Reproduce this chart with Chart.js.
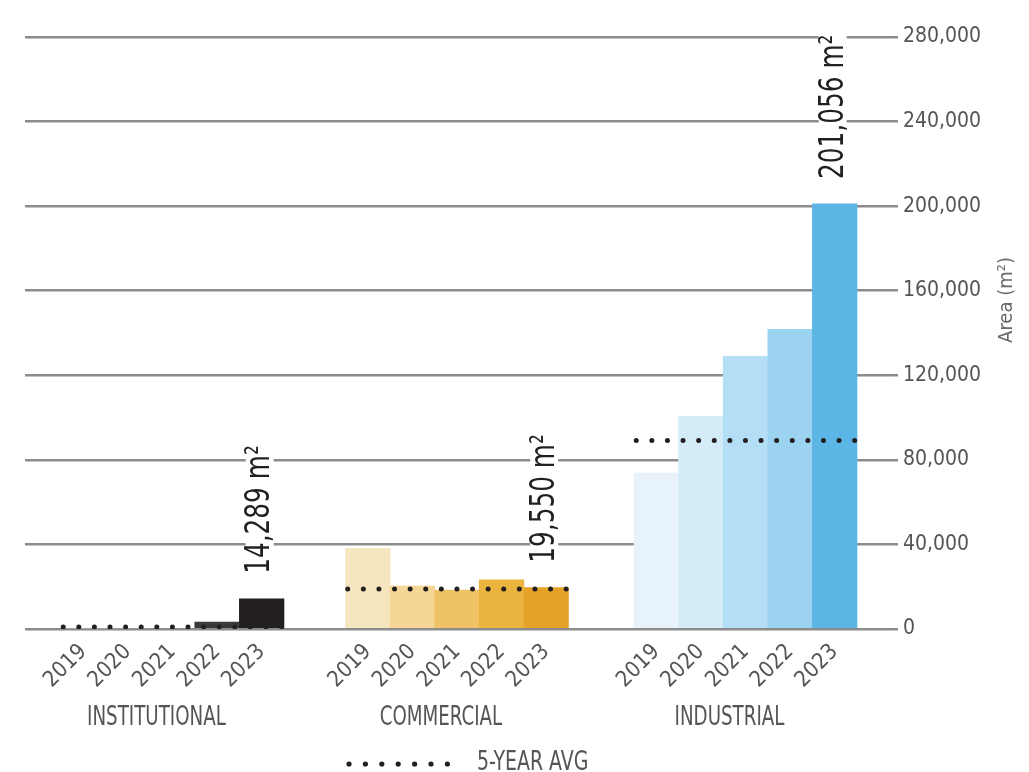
<!DOCTYPE html>
<html>
<head>
<meta charset="utf-8">
<title>Floor area by sector</title>
<script src="https://cdn.jsdelivr.net/npm/chart.js@4.4.1/dist/chart.umd.min.js"></script>
<style>
  html, body { margin: 0; padding: 0; background: #fff; }
  #wrap { width: 1029px; height: 772px; position: relative; }
</style>
</head>
<body>
<div id="wrap"><canvas id="chart"></canvas></div>
<script>
// Datos
const sectors = ['INSTITUTIONAL', 'COMMERCIAL', 'INDUSTRIAL'];
const years = ['2019', '2020', '2021', '2022', '2023'];
const institutional = [0, 0, 0, 3300, 14289];
const commercial = [38200, 20300, 18400, 23200, 19550];
const industrial = [73800, 100600, 129000, 141700, 201056];
const fiveYearAvg = [1000, 18900, 89200];
const labelledYear = '2023';
const yTicks = [0, 40000, 80000, 120000, 160000, 200000, 240000, 280000];

// Posicion de la primera barra de cada grupo en el eje x
const groupStart = [0, 6.38, 12.85];

const sectorColors = [
    ['#d9d9d9', '#bdbdbd', '#8c8c8c', '#3a3a3a', '#231f20'],
    ['#f6e6c0', '#f5d695', '#efc266', '#eab43e', '#e5a228'],
    ['#e7f2fa', '#d4ebf8', '#b3def5', '#9bd3f0', '#5bb5e5']
];

const COND = '"DejaVu Sans Condensed", "DejaVu Sans", sans-serif';
const TEXT_GREY = '#555555';

const seriesBySector = [institutional, commercial, industrial];

const barPoints = [];
const barColors = [];
const barLabels = [];
const tickPositions = [];
seriesBySector.forEach((values, g) => {
    values.forEach((v, i) => {
        barPoints.push({ x: groupStart[g] + i, y: v });
        barColors.push(sectorColors[g][i]);
        barLabels.push(years[i] === labelledYear ? `${v.toLocaleString('en-US')} m²` : null);
        tickPositions.push(groupStart[g] + i);
    });
});

const avgDatasets = fiveYearAvg.map((avg, g) => ({
    type: 'line',
    data: [{ x: groupStart[g] - 0.45, y: avg }, { x: groupStart[g] + 4.45, y: avg }],
    borderColor: '#231f20',
    borderWidth: 5,
    borderDash: [0, 15.6],
    borderCapStyle: 'round',
    pointRadius: 0,
    order: 0
}));

// texto estrechado horizontalmente
function narrowText(ctx, text, x, y, squeeze, align) {
    ctx.save();
    ctx.translate(x, y);
    ctx.scale(squeeze, 1);
    ctx.textAlign = align;
    ctx.fillText(text, 0, 0);
    ctx.restore();
}

// Etiquetas de valor, nombres de grupo, leyenda y titulo del eje
const extrasPlugin = {
    id: 'extras',
    afterDatasetsDraw(chart) {
        const ctx = chart.ctx;
        const x = chart.scales.x;
        const meta = chart.getDatasetMeta(0);

        ctx.save();
        ctx.font = `34px ${COND}`;
        meta.data.forEach((bar, i) => {
            const text = barLabels[i];
            if (!text) return;
            ctx.save();
            ctx.translate(bar.x - 2, bar.y - 25);
            ctx.rotate(-Math.PI / 2);
            ctx.scale(0.81, 1);
            const w = ctx.measureText(text).width;
            ctx.fillStyle = '#ffffff';
            ctx.fillRect(-2, -14, w + 4, 28);
            ctx.fillStyle = '#231f20';
            ctx.textAlign = 'left';
            ctx.textBaseline = 'middle';
            ctx.fillText(text, 0, 1);
            ctx.restore();
        });

        // nombres de sector
        ctx.font = `26px ${COND}`;
        ctx.fillStyle = TEXT_GREY;
        ctx.textBaseline = 'middle';
        sectors.forEach((name, g) => {
            const cx = x.getPixelForValue(groupStart[g] + 2) - 16;
            narrowText(ctx, name, cx, 718, 0.78, 'center');
        });

        // leyenda
        ctx.fillStyle = '#231f20';
        for (let k = 0; k < 7; k++) {
            ctx.beginPath();
            ctx.arc(349 + k * 16.4, 764, 2.6, 0, Math.PI * 2);
            ctx.fill();
        }
        ctx.fillStyle = TEXT_GREY;
        narrowText(ctx, '5-YEAR AVG', 477, 763, 0.81, 'left');

        // titulo eje y
        ctx.font = `20px ${COND}`;
        ctx.fillStyle = '#6a6a6a';
        ctx.translate(1007, 300);
        ctx.rotate(-Math.PI / 2);
        ctx.textAlign = 'center';
        ctx.fillText('Area (m²)', 0, 0);
        ctx.restore();
    }
};

new Chart(document.getElementById('chart'), {
    data: {
        datasets: [{
            type: 'bar',
            data: barPoints,
            backgroundColor: barColors,
            borderWidth: 0,
            barPercentage: 1,
            categoryPercentage: 1,
            order: 1
        }, ...avgDatasets]
    },
    options: {
        responsive: true,
        maintainAspectRatio: false,
        animation: false,
        layout: { padding: { left: 25, top: 37, right: 0, bottom: 0 } },
        plugins: {
            legend: { display: false },
            tooltip: { enabled: false }
        },
        scales: {
            x: {
                type: 'linear',
                offset: false,
                min: -1.307,
                max: 18.09,
                grid: { display: false },
                border: { display: false },
                afterBuildTicks: s => { s.ticks = tickPositions.map(v => ({ value: v })); },
                afterFit: s => { s.height = 143; },
                ticks: {
                    autoSkip: false,
                    minRotation: 45,
                    maxRotation: 45,
                    padding: 2,
                    color: TEXT_GREY,
                    font: { family: COND, size: 22 },
                    callback: (value, index) => years[index % years.length]
                }
            },
            y: {
                position: 'right',
                min: 0,
                max: 280000,
                afterBuildTicks: s => { s.ticks = yTicks.map(v => ({ value: v })); },
                afterFit: s => { s.width = 139; },
                grid: {
                    color: '#8c8c8c',
                    lineWidth: 2.5,
                    drawTicks: true,
                    tickLength: 8
                },
                border: { display: false },
                ticks: {
                    padding: 5,
                    color: TEXT_GREY,
                    font: { family: COND, size: 21 },
                    callback: v => v.toLocaleString('en-US')
                }
            }
        }
    },
    plugins: [extrasPlugin]
});
</script>
</body>
</html>
